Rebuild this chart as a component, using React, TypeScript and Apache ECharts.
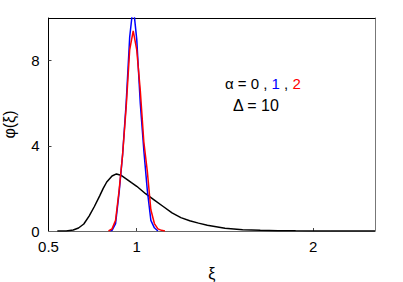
import React, { useEffect, useRef } from "react";
import * as echarts from "echarts";

const xi0 = [0.55, 0.6, 0.64, 0.67, 0.7, 0.73, 0.76, 0.79, 0.81, 0.83, 0.86, 0.885, 0.91, 0.94, 0.97, 1.0, 1.05, 1.1, 1.15, 1.2, 1.25, 1.3, 1.35, 1.4, 1.5, 1.6, 1.7, 1.8, 1.9, 2.0, 2.1, 2.35];
const phi0 = [0, 0.005, 0.05, 0.14, 0.33, 0.7, 1.15, 1.65, 2.0, 2.3, 2.58, 2.68, 2.62, 2.45, 2.27, 2.1, 1.75, 1.45, 1.15, 0.85, 0.63, 0.48, 0.37, 0.27, 0.13, 0.06, 0.03, 0.015, 0.008, 0.004, 0.002, 0];

const xi1 = [0.85, 0.86, 0.88, 0.9, 0.92, 0.94, 0.96, 0.98, 1.0, 1.02, 1.04, 1.06, 1.08, 1.1, 1.12];
const phi1 = [0, 0.03, 0.35, 1.8, 3.6, 6.0, 9.1, 10.6, 9.0, 6.0, 3.8, 1.9, 0.5, 0.15, 0];

const xi2 = [0.84, 0.86, 0.88, 0.9, 0.92, 0.94, 0.96, 0.98, 1.0, 1.02, 1.04, 1.06, 1.08, 1.1, 1.12, 1.14, 1.16];
const phi2 = [0, 0.1, 0.5, 1.9, 3.6, 5.8, 8.5, 9.4, 8.5, 6.6, 4.2, 2.8, 1.0, 0.35, 0.1, 0.03, 0];

const xLabels = [0.5, 1, 2];
const xTicks = [1, 2];
const yLabels = [0, 4, 8];
const yTicks = [4, 8];

const FONT = "Liberation Sans";

export default function App() {
  const ref = useRef<HTMLDivElement>(null);
  useEffect(() => {
    if (!ref.current) return;
    const chart = echarts.init(ref.current, null, { renderer: "svg" });
    const zip = (xs: number[], ys: number[]) => xs.map((x, i) => [x, ys[i]]);
    const lineSeries = (data: number[][], color: string) => ({
      type: "line",
      data,
      showSymbol: false,
      smooth: false,
      lineStyle: { color, width: 1.5 },
      itemStyle: { color },
      clip: true,
    });
    chart.setOption({
      animation: false,
      grid: { left: 48.5, right: 28, top: 18, bottom: 51, containLabel: false, outerBoundsMode: "none" },
      xAxis: [
        {
          type: "value",
          min: 0.5,
          max: 2.35,
          position: "bottom",
          axisLine: { show: true, onZero: false, lineStyle: { color: "#666", width: 1 } },
          axisTick: { show: true, inside: true, length: 3, customValues: xTicks, lineStyle: { color: "#444" } },
          axisLabel: {
            customValues: xLabels,
            color: "#000",
            fontSize: 15,
            fontFamily: FONT,
            margin: 8,
            formatter: (v: number) => String(v),
          },
          splitLine: { show: false },
          name: "ξ",
          nameLocation: "middle",
          nameGap: 34,
          nameTextStyle: { color: "#000", fontSize: 16, fontFamily: FONT },
        },
        {
          type: "value",
          min: 0.5,
          max: 2.35,
          position: "top",
          axisLine: { show: true, onZero: false, lineStyle: { color: "#000", width: 1 } },
          axisTick: { show: false },
          axisLabel: { show: false },
          splitLine: { show: false },
        },
      ],
      yAxis: [
        {
          type: "value",
          min: 0,
          max: 10,
          position: "left",
          axisLine: { show: true, onZero: false, lineStyle: { color: "#000", width: 1 } },
          axisTick: { show: true, inside: true, length: 3, customValues: yTicks, lineStyle: { color: "#444" } },
          axisLabel: {
            customValues: yLabels,
            color: "#000",
            fontSize: 15,
            fontFamily: FONT,
            margin: 9,
          },
          splitLine: { show: false },
          name: "φ(ξ)",
          nameLocation: "middle",
          nameGap: 31,
          nameRotate: 90,
          nameTextStyle: { color: "#000", fontSize: 16, fontFamily: FONT },
        },
        {
          type: "value",
          min: 0,
          max: 10,
          position: "right",
          axisLine: { show: true, onZero: false, lineStyle: { color: "#777", width: 1 } },
          axisTick: { show: false },
          axisLabel: { show: false },
          splitLine: { show: false },
        },
      ],
      series: [
        lineSeries(zip(xi0, phi0), "#000000"),
        lineSeries(zip(xi1, phi1), "#0000ff"),
        lineSeries(zip(xi2, phi2), "#ff0000"),
      ],
      graphic: [
        {
          type: "text",
          left: 225,
          top: 76,
          style: {
            text: "{k|α = 0 , }{b|1}{k| , }{r|2}",
            rich: {
              k: { fill: "#000", fontSize: 15, fontFamily: FONT },
              b: { fill: "#0000ff", fontSize: 15, fontFamily: FONT },
              r: { fill: "#ff0000", fontSize: 15, fontFamily: FONT },
            },
          },
        },
        {
          type: "text",
          left: 233,
          top: 97,
          style: { text: "Δ = 10", fill: "#000", fontSize: 16, fontFamily: FONT },
        },
      ],
    });
    return () => chart.dispose();
  }, []);
  return <div ref={ref} style={{ width: 403, height: 282, position: "absolute", left: 0, top: 0 }} />;
}
